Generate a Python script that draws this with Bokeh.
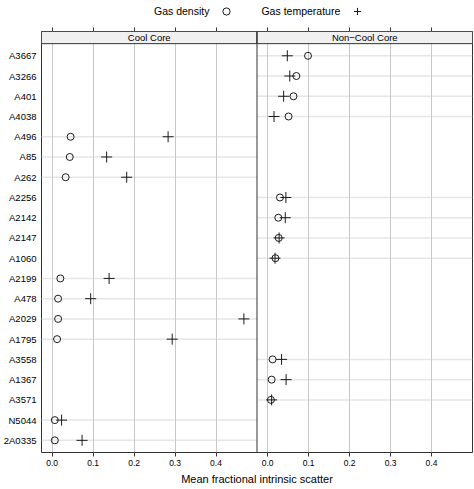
from bokeh.plotting import figure
from bokeh.layouts import column
from bokeh.models import (Range1d, LinearAxis, FixedTicker, Grid, BoxAnnotation,
                          Label, Span, Legend, LegendItem, ColumnDataSource)
from bokeh.core.properties import value
from bokeh.embed import file_html
from bokeh.resources import INLINE

# ---------------- data ----------------
CLUSTERS = ["A3667", "A3266", "A401", "A4038", "A496", "A85", "A262", "A2256",
            "A2142", "A2147", "A1060", "A2199", "A478", "A2029", "A1795",
            "A3558", "A1367", "A3571", "N5044", "2A0335"]
PANELS = ["Cool Core", "Non\u2212Cool Core"]
SERIES = ["Gas density", "Gas temperature"]

CC_CLUSTERS = ["A496", "A85", "A262", "A2199", "A478", "A2029", "A1795", "N5044", "2A0335"]
CC_DENSITY = [0.045, 0.043, 0.033, 0.020, 0.0145, 0.0145, 0.012, 0.0065, 0.0065]
CC_TEMPERATURE = [0.283, 0.133, 0.182, 0.139, 0.094, 0.468, 0.293, 0.023, 0.073]

NC_CLUSTERS = ["A3667", "A3266", "A401", "A4038", "A2256", "A2142", "A2147",
               "A1060", "A3558", "A1367", "A3571"]
NC_DENSITY = [0.0985, 0.070, 0.063, 0.051, 0.030, 0.026, 0.027, 0.019, 0.012, 0.0097, 0.008]
NC_TEMPERATURE = [0.048, 0.054, 0.039, 0.0155, 0.0445, 0.043, 0.028, 0.018, 0.034, 0.045, 0.0097]

X_TICKS = [0.0, 0.1, 0.2, 0.3, 0.4]
X_TICK_LABELS = ["0.0", "0.1", "0.2", "0.3", "0.4"]
X_TITLE = "Mean fractional intrinsic scatter"

# ---------------- layout / style ----------------
FONT = "Liberation Sans"
INK = "#1a1a1a"
FRAME = "#333333"
XLIM = (-0.026, 0.5)
WIDTH_X = XLIM[1] - XLIM[0]
YLIM = (0.4, len(CLUSTERS) + 0.6)
STRIP_UNITS = 0.6
Y_TOP = YLIM[1] + STRIP_UNITS
NAN = float("nan")

ypos = {name: len(CLUSTERS) - i for i, name in enumerate(CLUSTERS)}

cc_src = ColumnDataSource(dict(y=[ypos[c] for c in CC_CLUSTERS],
                               dens=CC_DENSITY, temp=CC_TEMPERATURE))
nc_src = ColumnDataSource(dict(y=[ypos[c] for c in NC_CLUSTERS],
                               dens=NC_DENSITY, temp=NC_TEMPERATURE))

all_ticks = X_TICKS + [t + WIDTH_X for t in X_TICKS]
x_main = Range1d(XLIM[0], XLIM[0] + 2 * WIDTH_X)

# ---------------- legend + top ticks (own small figure) ----------------
lf = figure(width=474, height=31, x_range=x_main, y_range=Range1d(0, 1),
            x_axis_type=None, y_axis_type=None, output_backend="svg",
            toolbar_location=None, min_border=0, outline_line_color=None,
            background_fill_color="white", border_fill_color="white")
# legend-only renderers (nothing is drawn in the frame)
lg_blank = lf.scatter(x=[], y=[], marker="circle", size=1, fill_alpha=0, line_alpha=0)
lg_dens = lf.scatter(x=[NAN], y=[NAN], marker="circle", fill_color=None,
                     line_color=INK, line_width=1)
lg_temp = lf.scatter(x=[NAN], y=[NAN], marker="cross", line_color=INK, line_width=1)
legend = Legend(items=[LegendItem(label=value(SERIES[0]), renderers=[lg_blank]),
                       LegendItem(label=value(" "), renderers=[lg_dens]),
                       LegendItem(label=value(SERIES[1]), renderers=[lg_blank]),
                       LegendItem(label=value(" "), renderers=[lg_temp])],
                orientation="horizontal", location=(95, 7),
                glyph_width=18, glyph_height=18, label_width=0, label_height=12,
                label_standoff=0, spacing=8, padding=0, margin=0,
                border_line_color=None, background_fill_alpha=0,
                label_text_font=FONT, label_text_font_size="10.5px",
                label_text_color="black")
lf.add_layout(legend)
# tick marks above the strips (labels not drawn)
xt = LinearAxis(ticker=FixedTicker(ticks=all_ticks),
                major_label_text_color=None, major_label_text_font_size="1px",
                major_label_standoff=0,
                major_tick_out=4, major_tick_in=0, minor_tick_out=0, minor_tick_in=0,
                major_tick_line_color=FRAME, major_tick_line_width=1,
                axis_line_color=None)
lf.add_layout(xt, "below")

# ---------------- main panels ----------------
p = figure(width=474, height=458, x_range=x_main,
           y_range=Range1d(YLIM[0], Y_TOP),
           x_axis_type=None, y_axis_type=None,
           output_backend="svg", toolbar_location=None,
           min_border_left=39, min_border_right=2, min_border_top=0, min_border_bottom=37,
           outline_line_color=FRAME, outline_line_width=1,
           background_fill_color="white", border_fill_color="white")
p.extra_x_ranges = {"nc": Range1d(XLIM[0] - WIDTH_X, XLIM[1])}

# vertical grid lines in each panel
for rn in ("default", "nc"):
    p.add_layout(Grid(dimension=0, ticker=FixedTicker(ticks=X_TICKS), x_range_name=rn,
                      grid_line_color="#c8c8c8", grid_line_width=1))

# horizontal reference lines where a panel has data
p.segment(x0=XLIM[0], x1=XLIM[1], y0="y", y1="y", source=cc_src,
          line_color="#e6e6e6", line_width=1.5, level="underlay")
p.segment(x0=XLIM[0], x1=XLIM[1], y0="y", y1="y", source=nc_src, x_range_name="nc",
          line_color="#e6e6e6", line_width=1.5, level="underlay")

# points
p.scatter(x="dens", y="y", source=cc_src, marker="circle", size=7,
          fill_color=None, line_color=INK, line_width=1)
p.scatter(x="temp", y="y", source=cc_src, marker="cross", size=11,
          line_color=INK, line_width=1)
p.scatter(x="dens", y="y", source=nc_src, x_range_name="nc", marker="circle", size=7,
          fill_color=None, line_color=INK, line_width=1)
p.scatter(x="temp", y="y", source=nc_src, x_range_name="nc", marker="cross", size=11,
          line_color=INK, line_width=1)

# strips
for rn in ("default", "nc"):
    p.add_layout(BoxAnnotation(left=XLIM[0], right=XLIM[1], bottom=YLIM[1], top=Y_TOP,
                               x_range_name=rn, fill_color="#f0f0f0", fill_alpha=1,
                               line_color=FRAME, line_width=1, line_alpha=1))
for rn, name in zip(("default", "nc"), PANELS):
    p.add_layout(Label(x=(XLIM[0] + XLIM[1]) / 2, y=(YLIM[1] + Y_TOP) / 2, x_range_name=rn,
                       text=name, text_align="center", text_baseline="middle",
                       text_font=FONT, text_font_size="9.5px", text_color="black"))

# panel divider
p.add_layout(Span(location=XLIM[1], dimension="height", line_color=FRAME, line_width=1))

# x axis (shared across panels)
overrides = {t: lab for t, lab in zip(all_ticks, X_TICK_LABELS + X_TICK_LABELS)}
xb = LinearAxis(ticker=FixedTicker(ticks=all_ticks), major_label_overrides=overrides,
                axis_label=X_TITLE, axis_label_text_font=FONT,
                axis_label_text_font_size="11px", axis_label_text_font_style="normal",
                axis_label_text_color="black", axis_label_standoff=4,
                major_label_text_font=FONT, major_label_text_font_size="8.5px",
                major_label_text_color="black", major_label_standoff=3,
                major_tick_out=4, major_tick_in=0, minor_tick_out=0, minor_tick_in=0,
                major_tick_line_color=FRAME, axis_line_color=None)
p.add_layout(xb, "below")

# y axis with cluster names
yl = LinearAxis(ticker=FixedTicker(ticks=[ypos[c] for c in CLUSTERS]),
                major_label_overrides={ypos[c]: c for c in CLUSTERS},
                major_label_text_font=FONT, major_label_text_font_size="9.5px",
                major_label_text_color="black", major_label_standoff=5,
                major_tick_out=0, major_tick_in=0, minor_tick_out=0, minor_tick_in=0,
                axis_line_color=None)
p.add_layout(yl, "left")

layout = column(lf, p, spacing=0)
open("out.html", "w").write(file_html(layout, INLINE))
